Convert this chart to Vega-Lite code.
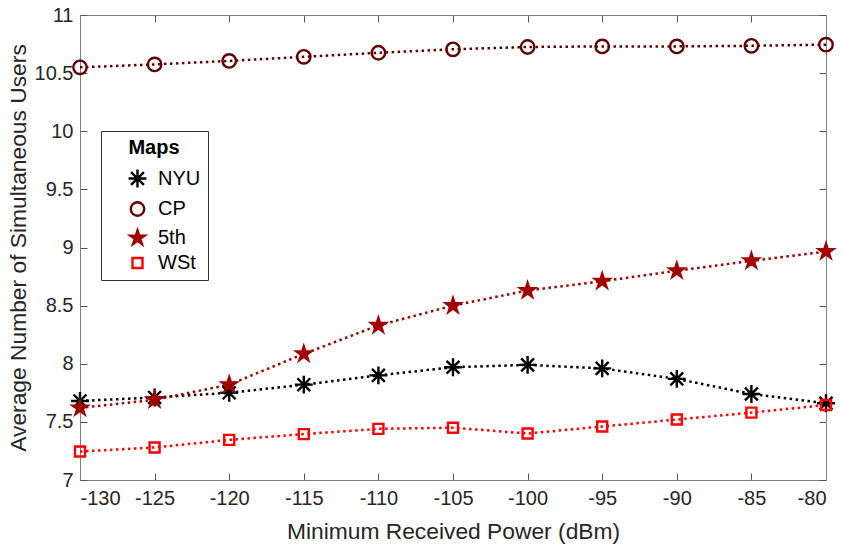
{
  "$schema": "https://vega.github.io/schema/vega-lite/v6.json",
  "width": 746,
  "height": 465,
  "autosize": "none",
  "padding": {"left": 80, "top": 15, "right": 17, "bottom": 70},
  "background": "white",
  "config": {
    "font": "Liberation Sans",
    "view": {"stroke": null},
    "axis": {
      "grid": false,
      "ticks": true,
      "domainColor": "#808080",
      "domainWidth": 1,
      "tickColor": "#555555",
      "tickWidth": 1,
      "tickOpacity": 1,
      "labelColor": "#262626",
      "titleColor": "#262626",
      "labelFont": "Liberation Sans",
      "titleFont": "Liberation Sans",
      "labelFontSize": 20,
      "titleFontSize": 22.8,
      "titleFontWeight": "normal"
    },
    "legend": {
      "disable": false,
      "labelFont": "Liberation Sans",
      "titleFont": "Liberation Sans",
      "labelFontSize": 20,
      "titleFontSize": 20,
      "labelColor": "#000000",
      "titleColor": "#000000"
    }
  },
  "data": {
    "values": [
      {"p": -130, "v": 7.68, "Map": "NYU"}, {"p": -125, "v": 7.71, "Map": "NYU"}, {"p": -120, "v": 7.75, "Map": "NYU"}, {"p": -115, "v": 7.82, "Map": "NYU"}, {"p": -110, "v": 7.90, "Map": "NYU"}, {"p": -105, "v": 7.97, "Map": "NYU"}, {"p": -100, "v": 7.99, "Map": "NYU"}, {"p": -95, "v": 7.96, "Map": "NYU"}, {"p": -90, "v": 7.87, "Map": "NYU"}, {"p": -85, "v": 7.74, "Map": "NYU"}, {"p": -80, "v": 7.66, "Map": "NYU"},
      {"p": -130, "v": 10.55, "Map": "CP"}, {"p": -125, "v": 10.575, "Map": "CP"}, {"p": -120, "v": 10.605, "Map": "CP"}, {"p": -115, "v": 10.64, "Map": "CP"}, {"p": -110, "v": 10.675, "Map": "CP"}, {"p": -105, "v": 10.705, "Map": "CP"}, {"p": -100, "v": 10.725, "Map": "CP"}, {"p": -95, "v": 10.73, "Map": "CP"}, {"p": -90, "v": 10.73, "Map": "CP"}, {"p": -85, "v": 10.735, "Map": "CP"}, {"p": -80, "v": 10.745, "Map": "CP"},
      {"p": -130, "v": 7.62, "Map": "5th"}, {"p": -125, "v": 7.69, "Map": "5th"}, {"p": -120, "v": 7.82, "Map": "5th"}, {"p": -115, "v": 8.085, "Map": "5th"}, {"p": -110, "v": 8.33, "Map": "5th"}, {"p": -105, "v": 8.50, "Map": "5th"}, {"p": -100, "v": 8.63, "Map": "5th"}, {"p": -95, "v": 8.71, "Map": "5th"}, {"p": -90, "v": 8.80, "Map": "5th"}, {"p": -85, "v": 8.885, "Map": "5th"}, {"p": -80, "v": 8.965, "Map": "5th"},
      {"p": -130, "v": 7.245, "Map": "WSt"}, {"p": -125, "v": 7.28, "Map": "WSt"}, {"p": -120, "v": 7.345, "Map": "WSt"}, {"p": -115, "v": 7.395, "Map": "WSt"}, {"p": -110, "v": 7.44, "Map": "WSt"}, {"p": -105, "v": 7.45, "Map": "WSt"}, {"p": -100, "v": 7.40, "Map": "WSt"}, {"p": -95, "v": 7.46, "Map": "WSt"}, {"p": -90, "v": 7.52, "Map": "WSt"}, {"p": -85, "v": 7.58, "Map": "WSt"}, {"p": -80, "v": 7.645, "Map": "WSt"}
    ]
  },
  "resolve": {"axis": {"x": "independent", "y": "independent"}},
  "layer": [
    {
      "transform": [{"filter": {"field": "Map", "oneOf": ["NYU", "CP"]}}],
      "mark": {"type": "line", "strokeDash": [2.5, 3.5], "strokeWidth": 2.5},
      "encoding": {
        "x": {"field": "p", "type": "quantitative", "scale": {"domain": [-130, -80], "nice": false},
          "axis": {"orient": "bottom", "title": "Minimum Received Power (dBm)", "values": [-130, -125, -120, -115, -110, -105, -100, -95, -90, -85, -80], "labelExpr": "toString(datum.value)", "ticks": false, "tickSize": 0, "labelPadding": 8, "titlePadding": 12}},
        "y": {"field": "v", "type": "quantitative", "scale": {"domain": [7, 11], "nice": false, "zero": false},
          "axis": {"orient": "left", "title": "Average Number of Simultaneous Users", "values": [7, 7.5, 8, 8.5, 9, 9.5, 10, 10.5, 11], "labelExpr": "toString(datum.value)", "ticks": false, "tickSize": 0, "labelPadding": 7, "titlePadding": 4}},
        "color": {"field": "Map", "type": "nominal", "title": "Maps",
          "scale": {"domain": ["NYU", "CP", "5th", "WSt"], "range": ["#000000", "#620000", "#A00000", "#FF0000"]}}
      }
    },
    {
      "transform": [{"filter": {"field": "Map", "oneOf": ["5th", "WSt"]}}],
      "mark": {"type": "line", "strokeDash": [2.5, 3.5], "strokeWidth": 2.5},
      "encoding": {
        "x": {"field": "p", "type": "quantitative",
          "axis": {"orient": "bottom", "offset": -465, "labels": false, "title": null, "ticks": true, "tickColor": "#555555", "values": [-130, -125, -120, -115, -110, -105, -100, -95, -90, -85, -80], "tickSize": 7}},
        "y": {"field": "v", "type": "quantitative",
          "axis": {"orient": "left", "offset": -746, "labels": false, "title": null, "ticks": true, "tickColor": "#555555", "values": [7, 7.5, 8, 8.5, 9, 9.5, 10, 10.5, 11], "tickSize": 7}},
        "color": {"field": "Map", "type": "nominal", "title": "Maps"}
      }
    },
    {
      "mark": {"type": "point", "opacity": 1, "strokeWidth": 2.4},
      "encoding": {
        "x": {"field": "p", "type": "quantitative",
          "axis": {"orient": "top", "offset": -465, "labels": false, "title": null, "domain": false, "ticks": true, "tickColor": "#555555", "values": [-130, -125, -120, -115, -110, -105, -100, -95, -90, -85, -80], "tickSize": 7}},
        "y": {"field": "v", "type": "quantitative",
          "axis": {"orient": "right", "offset": -746, "labels": false, "title": null, "domain": false, "ticks": true, "tickColor": "#555555", "values": [7, 7.5, 8, 8.5, 9, 9.5, 10, 10.5, 11], "tickSize": 7}},
        "color": {"field": "Map", "type": "nominal", "title": "Maps",
          "legend": {"disable": false, "orient": "none", "legendX": 21, "legendY": 116, "padding": 7, "strokeColor": "#333333", "fillColor": "white", "titleFontWeight": "bold", "titleAnchor": "middle", "titleAlign": "center", "titlePadding": 10, "rowPadding": 4, "symbolOffset": 19, "labelOffset": 10, "symbolStrokeWidth": 2.4, "labelExpr": "datum.label + '\u00a0\u00a0\u00a0\u00a0'"}},
        "fill": {"field": "Map", "type": "nominal", "title": "Maps",
          "scale": {"domain": ["NYU", "CP", "5th", "WSt"], "range": ["rgba(255,255,255,0)", "rgba(255,255,255,0)", "#A00000", "rgba(255,255,255,0)"]},
          "legend": {"disable": false, "orient": "none", "legendX": 21, "legendY": 116, "padding": 7, "strokeColor": "#333333", "fillColor": "white", "titleFontWeight": "bold", "titleAnchor": "middle", "titleAlign": "center", "titlePadding": 10, "rowPadding": 4, "symbolOffset": 19, "labelOffset": 10, "symbolStrokeWidth": 2.4, "labelExpr": "datum.label + '\u00a0\u00a0\u00a0\u00a0'"}},
        "shape": {"field": "Map", "type": "nominal", "title": "Maps",
          "scale": {"domain": ["NYU", "CP", "5th", "WSt"], "range": ["M0,-1L0,1M-1,0L1,0M-0.72,-0.72L0.72,0.72M-0.72,0.72L0.72,-0.72", "circle", "M0,-1L0.2245,-0.309L0.951,-0.309L0.363,0.118L0.588,0.809L0,0.382L-0.588,0.809L-0.363,0.118L-0.951,-0.309L-0.2245,-0.309Z", "square"]},
          "legend": {"disable": false, "orient": "none", "legendX": 21, "legendY": 116, "padding": 7, "strokeColor": "#333333", "fillColor": "white", "titleFontWeight": "bold", "titleAnchor": "middle", "titleAlign": "center", "titlePadding": 10, "rowPadding": 4, "symbolOffset": 19, "labelOffset": 10, "symbolStrokeWidth": 2.4, "labelExpr": "datum.label + '\u00a0\u00a0\u00a0\u00a0'"}},
        "size": {"field": "Map", "type": "nominal", "title": "Maps",
          "scale": {"type": "ordinal", "domain": ["NYU", "CP", "5th", "WSt"], "range": [320, 180, 230, 100]},
          "legend": {"disable": false, "orient": "none", "legendX": 21, "legendY": 116, "padding": 7, "strokeColor": "#333333", "fillColor": "white", "titleFontWeight": "bold", "titleAnchor": "middle", "titleAlign": "center", "titlePadding": 10, "rowPadding": 4, "symbolOffset": 19, "labelOffset": 10, "symbolStrokeWidth": 2.4, "labelExpr": "datum.label + '\u00a0\u00a0\u00a0\u00a0'"}}
      }
    }
  ]
}
